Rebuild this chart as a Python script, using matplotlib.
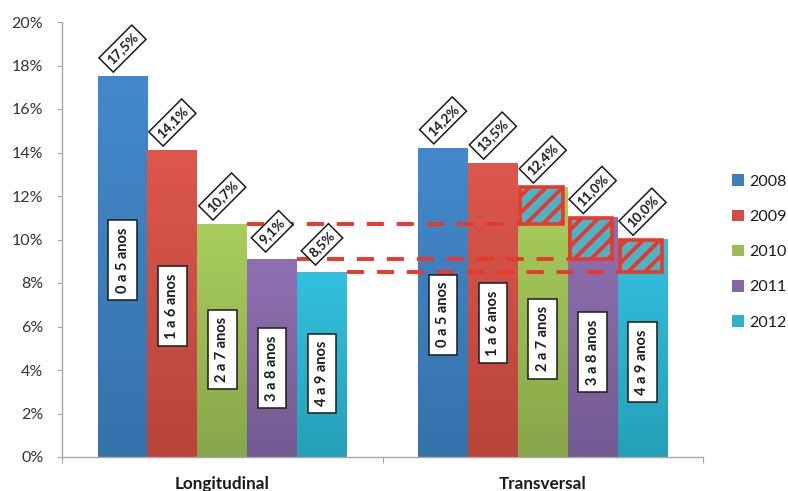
import numpy as np
import matplotlib
matplotlib.use("Agg")
import matplotlib.pyplot as plt
from matplotlib.colors import LinearSegmentedColormap
from matplotlib.patches import Patch

plt.rcParams['font.family'] = ['Lato', 'DejaVu Sans']
plt.rcParams['hatch.linewidth'] = 2.8

# ---------------- data ----------------
groups = ["Longitudinal", "Transversal"]
years = ["2008", "2009", "2010", "2011", "2012"]
longitudinal = [17.5, 14.1, 10.7, 9.1, 8.5]
transversal = [14.2, 13.5, 12.4, 11.0, 10.0]
cohorts = ["0 a 5 anos", "1 a 6 anos", "2 a 7 anos", "3 a 8 anos", "4 a 9 anos"]
compare_idx = [2, 3, 4]  # cohorts compared between the two designs

# ---------------- style ----------------
top_colors = ["#4489cc", "#dd574c", "#a9ce5c", "#9170b2", "#33c0de"]
bot_colors = ["#3572aa", "#b8443a", "#88a64a", "#735a91", "#25a0b8"]
mid_colors = ["#3d7fbe", "#cf4f44", "#9bbd53", "#8466a3", "#2db3cf"]
# vertical centres of the cohort labels (layout, %)
inner_label_y = [[9.05, 6.94, 4.94, 4.07, 3.84],
                 [6.55, 6.16, 5.43, 4.83, 4.37]]

fig = plt.figure(figsize=(7.88, 4.91), dpi=100)
ax = fig.add_axes([62 / 788, 1 - 457 / 491, (703 - 62) / 788, (457 - 22) / 491])

w = 0.1556
centers = [0.5, 1.5]
grad = np.linspace(0, 1, 256).reshape(-1, 1)
series = [longitudinal, transversal]

bar_rects = [[], []]
for gi, vals in enumerate(series):
    for i, v in enumerate(vals):
        x = centers[gi] + (i - 2) * w
        b = ax.bar(x, v, width=w, color=mid_colors[i], zorder=2)[0]
        bar_rects[gi].append(b)
        cmap = LinearSegmentedColormap.from_list("g", [top_colors[i], bot_colors[i]])
        ax.imshow(grad, cmap=cmap, extent=[b.get_x(), b.get_x() + b.get_width(), 0, v],
                  aspect='auto', origin='upper', zorder=2.1, interpolation='bilinear')

ax.set_xlim(0, 2)
ax.set_ylim(0, 20)

# dashed reference lines + hatched difference boxes
red = "#e8392b"
inset = 0.012
for i in compare_idx:
    lb = bar_rects[0][i]
    tb = bar_rects[1][i]
    x0 = lb.get_x() + lb.get_width()
    x1 = tb.get_x() + inset
    ax.plot([x0, x1], [longitudinal[i], longitudinal[i]], color=red, lw=2.8,
            linestyle=(0, (4.4, 3.3)), zorder=3, solid_capstyle='butt')
    ax.bar(tb.get_x() + tb.get_width() / 2 - 0.004, transversal[i] - longitudinal[i],
           bottom=longitudinal[i], width=w - 2 * inset, facecolor="#4ab4c8",
           edgecolor=red, hatch='//', linewidth=2.6, zorder=3.5)

# value labels (rotated 45°) and cohort labels (rotated 90°)
for gi, vals in enumerate(series):
    for i, v in enumerate(vals):
        b = bar_rects[gi][i]
        xc = b.get_x() + b.get_width() / 2
        ax.annotate(f"{v:.1f}%".replace(".", ","), xy=(xc, v), xytext=(0, 20),
                    textcoords='offset points', ha='center', va='center', rotation=45,
                    fontsize=9.8, fontweight='bold', color='#1a1a1a', zorder=6,
                    bbox=dict(boxstyle='square,pad=0.3', fc='white', ec='#1a1a1a', lw=1.1))
        ax.text(xc, inner_label_y[gi][i], cohorts[i], rotation=90, ha='center', va='center',
                fontsize=10.5, fontweight='bold', color='#1a1a1a', zorder=5,
                bbox=dict(boxstyle='square,pad=0.5', fc='white', ec='#1a1a1a', lw=1.1))

# axes styling
for s in ['top', 'right']:
    ax.spines[s].set_visible(False)
for s in ['left', 'bottom']:
    ax.spines[s].set_color('#a6a6a6')
    ax.spines[s].set_linewidth(1.0)
ax.set_yticks(np.arange(0, 21, 2))
ax.set_yticklabels([f"{t}%" for t in range(0, 21, 2)])
ax.tick_params(axis='y', direction='out', length=3.5, color='#a6a6a6', pad=10,
               labelsize=11.5, labelcolor='#333333')
ax.set_xticks([0, 1, 2])
ax.set_xticklabels([])
ax.tick_params(axis='x', which='major', direction='out', length=4, color='#a6a6a6')
ax.set_xticks(centers, minor=True)
ax.set_xticklabels(groups, minor=True, fontweight='bold', fontsize=12.3, color='#1a1a1a')
ax.tick_params(axis='x', which='minor', length=0, pad=14)

handles = [Patch(facecolor=c, edgecolor='none') for c in mid_colors]
fig.legend(handles, years, loc='center left', bbox_to_anchor=(732 / 788, 1 - 252 / 491),
           frameon=False, fontsize=11.5, handlelength=0.75, handleheight=0.75,
           handletextpad=0.3, labelspacing=1.3, borderpad=0, borderaxespad=0,
           labelcolor='#1a1a1a')

fig.savefig("out.png", dpi=100)
